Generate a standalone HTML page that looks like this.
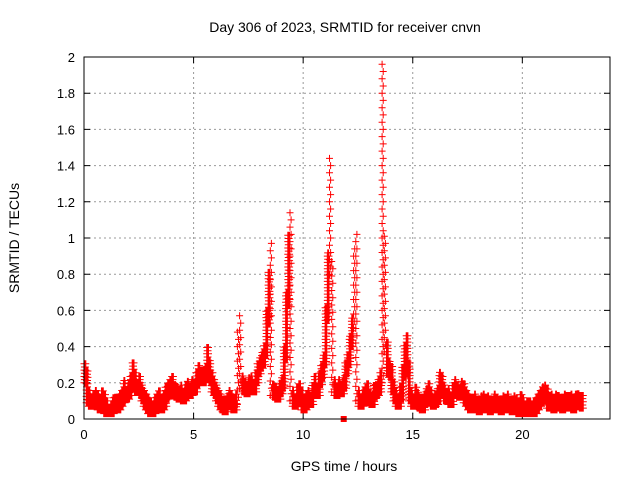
<!DOCTYPE html>
<html><head><meta charset="utf-8"><style>
body{margin:0;background:#fff;}
svg{display:block;font-family:"Liberation Sans",sans-serif;}
</style></head><body>
<svg id="chart" width="640" height="480">
<rect width="640" height="480" fill="#fff"/>
<text x="345" y="32" text-anchor="middle" font-size="14">Day 306 of 2023, SRMTID for receiver cnvn</text>
<text x="344" y="471" text-anchor="middle" font-size="14">GPS time / hours</text>
<text transform="translate(19,238) rotate(-90)" text-anchor="middle" font-size="14">SRMTID / TECUs</text>
<g id="grid"></g>
<g id="axes"></g>
<path id="marks" fill="none" stroke="#f00" stroke-width="1"/>
<rect id="sq" fill="#f00"/>
<rect x="84" y="57" width="526" height="362" fill="none" stroke="#000" stroke-width="1"/>
</svg>
<script>
const xTicks=[0,5,10,15,20];
const yTicks=[0,0.2,0.4,0.6,0.8,1,1.2,1.4,1.6,1.8,2];
const yTickLabels=["0","0.2","0.4","0.6","0.8","1","1.2","1.4","1.6","1.8","2"];
const startHour=0;
const stepHours=0.1;
const srmtid=[
0.30,0.25,0.14,0.12,0.13,0.15,0.12,0.10,0.14,0.12,
0.08,0.06,0.07,0.10,0.11,0.10,0.12,0.14,0.20,0.16,
0.18,0.22,0.30,0.25,0.20,0.22,0.18,0.15,0.12,0.10,
0.08,0.07,0.10,0.12,0.14,0.10,0.12,0.16,0.18,0.20,
0.22,0.18,0.17,0.16,0.18,0.15,0.17,0.20,0.18,0.21,
0.20,0.24,0.28,0.26,0.25,0.27,0.38,0.32,0.25,0.20,
0.18,0.15,0.12,0.10,0.09,0.12,0.14,0.12,0.10,0.13,
0.48,0.55,0.22,0.20,0.19,0.21,0.22,0.20,0.25,0.30,
0.33,0.35,0.40,0.58,0.80,0.98,0.18,0.17,0.16,0.19,
0.22,0.38,0.68,1.00,1.15,0.15,0.12,0.16,0.18,0.14,
0.10,0.12,0.15,0.13,0.18,0.22,0.18,0.24,0.28,0.35,
0.60,0.90,1.45,0.85,0.20,0.18,0.20,0.19,0.22,0.30,
0.35,0.45,0.55,0.95,1.02,0.15,0.12,0.14,0.16,0.18,
0.14,0.13,0.17,0.18,0.20,0.25,1.95,1.00,0.42,0.30,
0.28,0.20,0.15,0.12,0.16,0.28,0.40,0.45,0.30,0.15,
0.12,0.16,0.14,0.11,0.10,0.13,0.15,0.18,0.14,0.12,
0.13,0.15,0.25,0.22,0.18,0.15,0.16,0.13,0.18,0.20,
0.18,0.17,0.20,0.18,0.14,0.12,0.10,0.11,0.12,0.10,
0.09,0.11,0.12,0.10,0.11,0.09,0.10,0.12,0.11,0.10,
0.09,0.11,0.10,0.12,0.10,0.09,0.11,0.10,0.08,0.12,
0.10,0.07,0.08,0.09,0.07,0.08,0.10,0.12,0.14,0.16,
0.17,0.15,0.11,0.12,0.10,0.13,0.12,0.11,0.10,0.13,
0.12,0.11,0.13,0.10,0.12,0.13,0.12,0.11];
const zeroMarkerHour=[11.85];

const X0=84,X1=610,Y0=419,Y1=57,XMAX=24,YMAX=2;
function xs(h){return X0+(h/XMAX)*(X1-X0);}
function ys(v){return Y0-(v/YMAX)*(Y0-Y1);}
const NS="http://www.w3.org/2000/svg";
const grid=document.getElementById('grid'),axes=document.getElementById('axes');
function el(p,tag,a){const e=document.createElementNS(NS,tag);for(const k in a)e.setAttribute(k,a[k]);p.appendChild(e);return e;}
xTicks.forEach(t=>{
 const x=xs(t);
 if(t>0){const g=el(grid,'line',{x1:x,x2:x,y1:Y0,y2:Y1,stroke:'#999','stroke-dasharray':'2,3'});
 
 }
 const tk=el(axes,'path',{d:`M${x},${Y0}v-6M${x},${Y1}v6`,stroke:'#000'});
 
 
 const lb=el(axes,'text',{x:x,y:Y0+20,'text-anchor':'middle','font-size':13});
 lb.textContent=t;
 
 
});
yTicks.forEach((t,i)=>{
 const y=ys(t);
 if(t>0&&t<YMAX){const g=el(grid,'line',{x1:X0,x2:X1,y1:y,y2:y,stroke:'#999','stroke-dasharray':'2,3'});
 
 }
 const tk=el(axes,'path',{d:`M${X0},${y}h6M${X1},${y}h-6`,stroke:'#000'});
 
 
 const lb=el(axes,'text',{x:X0-9,y:y+5,'text-anchor':'end','font-size':13});
 lb.textContent=yTickLabels[i];
 
 
});
let d='';
function plus(x,y){d+=`M${(x-3.5).toFixed(1)},${y.toFixed(1)}h7M${x.toFixed(1)},${(y-3.5).toFixed(1)}v7`;}
for(let i=0;i<srmtid.length;i++){
 const v=srmtid[i];
 const lo=Math.max(0.03,Math.min(v,srmtid[i-1]??v,srmtid[i+1]??v)-0.05);
 const hi=v+0.02;
 const span=hi-lo;
 const h=startHour+i*stepHours;
 const tall=span>0.4;
 const cols=tall?2:5;
 const step=tall?0.08:0.035;
 for(let k=0;k<cols;k++){
  const hh=h+k*stepHours/cols;
  for(let u=lo+(k%2)*step/2;u<=hi;u+=step){plus(xs(hh),ys(u));}
 }
}
document.getElementById('marks').setAttribute('d',d);
const sq=document.getElementById('sq');
sq.setAttribute('x',xs(zeroMarkerHour[0])-3);sq.setAttribute('y',Y0-3);
sq.setAttribute('width',6);sq.setAttribute('height',6);
</script>
</body></html>
